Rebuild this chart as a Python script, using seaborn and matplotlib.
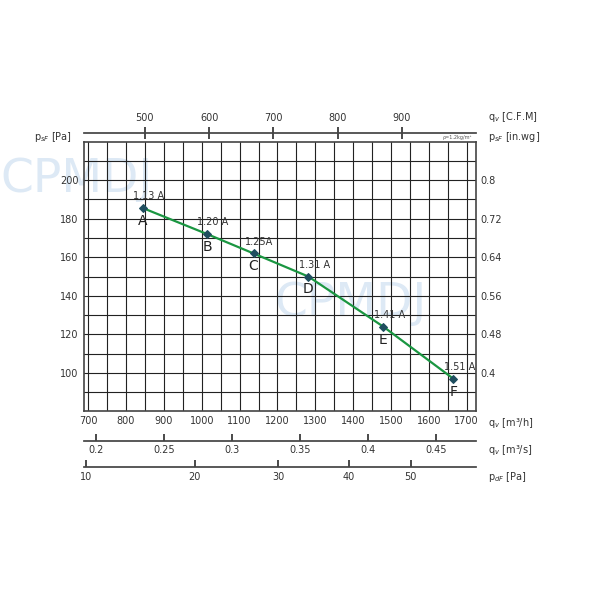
import numpy as np
import matplotlib.pyplot as plt
import seaborn as sns

# operating points
flow_m3h = [845, 1015, 1137, 1282, 1480, 1665]
pressure_pa = [185.5, 172, 162, 150, 124, 97]
point_names = ["A", "B", "C", "D", "E", "F"]
currents = ["1.13 A", "1.20 A", "1.25A", "1.31 A", "1.41 A", "1.51 A"]

x_ticks = list(range(700, 1701, 100))
y_ticks = [100, 120, 140, 160, 180, 200]
cfm_ticks = [500, 600, 700, 800, 900]
m3s_ticks = [0.2, 0.25, 0.3, 0.35, 0.4, 0.45]
pdf_ticks = [10, 20, 30, 40, 50]
inwg_ticks = [0.4, 0.48, 0.56, 0.64, 0.72, 0.8]

sns.set_theme(style="white")
plt.rcParams['font.family'] = ['DejaVu Sans']

fig = plt.figure(figsize=(6, 6), dpi=100)
ax = fig.add_axes([0.14, 0.315, 0.653, 0.448])

ax.set_xlim(689, 1724)
ax.set_ylim(80.3, 219.7)
ax.set_xticks(x_ticks)
ax.set_yticks(y_ticks)
ax.set_xticks(np.arange(750, 1701, 100), minor=True)
ax.set_yticks(np.arange(90, 211, 20), minor=True)
ax.grid(True, which="both", color="#222222", lw=0.8)
for s in ax.spines.values():
    s.set_color("#444444")
    s.set_linewidth(1.2)
ax.tick_params(axis="both", which="both", labelsize=7, length=0, colors="#333333")
ax.tick_params(axis="y", pad=4)

# watermark, kept light and behind the grid
ax.text(-0.02, 0.86, "CPMDJ", transform=ax.transAxes, fontsize=34, color="#dde9f5",
        ha="center", va="center", zorder=0.1, clip_on=False)
ax.text(0.68, 0.40, "CPMDJ", transform=ax.transAxes, fontsize=34, color="#dde9f5",
        ha="center", va="center", zorder=0.1)

sns.lineplot(x=flow_m3h, y=pressure_pa, ax=ax, color="#1a9641", lw=1.6,
             marker="D", markersize=4, markerfacecolor="#1f4e5f",
             markeredgecolor="#1f4e5f", zorder=3)
for x, y, n, c in zip(flow_m3h, pressure_pa, point_names, currents):
    ax.text(x + 15, y + 3.5, c, fontsize=7, color="#333333", ha="center", va="bottom", zorder=4)
    ax.text(x, y - 3, n, fontsize=10, color="#222222", ha="center", va="top", zorder=4)

# right axis in.wg
sec_r = ax.secondary_yaxis("right", functions=(lambda p: p * 0.004, lambda w: w / 0.004))
sec_r.set_yticks(inwg_ticks)
sec_r.set_yticklabels(["0.4", "0.48", "0.56", "0.64", "0.72", "0.8"])
sec_r.tick_params(labelsize=7, length=0, colors="#333333")
sec_r.spines["right"].set_visible(False)

# top CFM axis
top = ax.secondary_xaxis(1.033, functions=(lambda q: q / 1.699, lambda c: c * 1.699))
top.set_xticks(cfm_ticks)
top.xaxis.set_ticks_position("top")
top.tick_params(labelsize=7, direction="inout", length=8, colors="#333333")

# bottom m3/s axis
b1 = ax.secondary_xaxis(-0.11, functions=(lambda q: q / 3600, lambda s: s * 3600))
b1.set_xticks(m3s_ticks)
b1.set_xticklabels(["0.2", "0.25", "0.3", "0.35", "0.4", "0.45"])
b1.tick_params(labelsize=7, direction="in", length=5, colors="#333333")

# bottom dynamic pressure axis
b2 = ax.secondary_xaxis(-0.21, functions=(lambda q: 10 * (np.abs(q) / 694) ** 2,
                                          lambda p: 694 * np.sqrt(np.abs(p) / 10)))
b2.set_xticks(pdf_ticks)
b2.tick_params(labelsize=7, direction="in", length=5, colors="#333333")

for a in (top, b1, b2):
    for s in a.spines.values():
        s.set_color("#444444")

# axis labels
lab = dict(fontsize=7, color="#333333", transform=ax.transAxes)
ax.text(-0.03, 1.02, r"p$_{sF}$ [Pa]", ha="right", va="center", **lab)
ax.text(1.03, 1.02, r"p$_{sF}$ [in.wg]", ha="left", va="center", **lab)
ax.text(1.03, 1.095, r"q$_v$ [C.F.M]", ha="left", va="center", **lab)
ax.text(1.03, -0.045, r"q$_v$ [m³/h]", ha="left", va="center", **lab)
ax.text(1.03, -0.145, r"q$_v$ [m³/s]", ha="left", va="center", **lab)
ax.text(1.03, -0.245, r"p$_{dF}$ [Pa]", ha="left", va="center", **lab)
ax.text(0.99, 1.01, "ρ=1.2kg/m³", ha="right", va="bottom", fontsize=3.5,
        color="#555555", transform=ax.transAxes)

fig.savefig("out.png", dpi=100)
